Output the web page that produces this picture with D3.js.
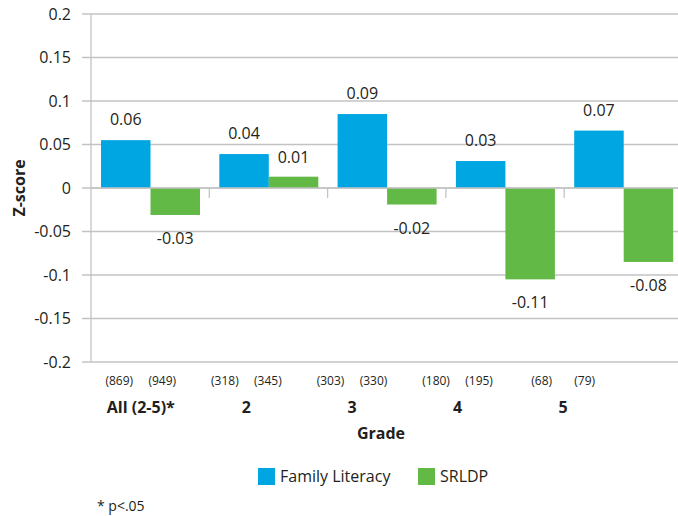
<!DOCTYPE html>
<html><head><meta charset="utf-8">
<script src="https://cdn.jsdelivr.net/npm/d3@7"></script>
<style>body{margin:0;background:#fff;overflow:hidden}svg{display:block}text{font-family:"Open Sans",sans-serif;fill:#231f20}</style>
</head><body>
<svg id="c" width="678" height="516"></svg>
<script>
const categories = ["All (2-5)*", "2", "3", "4", "5"];
const familyLiteracy = [0.055, 0.039, 0.085, 0.031, 0.066];
const srldp = [-0.031, 0.013, -0.019, -0.105, -0.085];
const flLabels = ["0.06", "0.04", "0.09", "0.03", "0.07"];
const srLabels = ["-0.03", "0.01", "-0.02", "-0.11", "-0.08"];
const flN = ["(869)", "(318)", "(303)", "(180)", "(68)"];
const srN = ["(949)", "(345)", "(330)", "(195)", "(79)"];
const yTicks = [0.2, 0.15, 0.1, 0.05, 0, -0.05, -0.1, -0.15, -0.2];
const seriesNames = ["Family Literacy", "SRLDP"];
const colors = ["#00a6e1", "#62b946"];

const svg = d3.select("#c");
const L = 91, R = 682.5, T = 14, B = 362;
const y = d3.scaleLinear().domain([-0.2, 0.2]).range([B, T]);
const x = d3.scaleBand().domain(categories).range([L, R]).paddingInner(0).paddingOuter(0);
const bw = 49.5;
const off = 10;
const lx = d3.scaleBand().domain(categories).range([88, 616]);

// gridlines
svg.append("g").selectAll("line").data(yTicks).join("line")
  .attr("x1", L - 9).attr("x2", R).attr("y1", d => y(d)).attr("y2", d => y(d))
  .attr("stroke", "#c3c3c3").attr("stroke-width", 1.3);
svg.append("line").attr("x1", L).attr("x2", L).attr("y1", T).attr("y2", B)
  .attr("stroke", "#c3c3c3").attr("stroke-width", 1.3);
svg.append("g").selectAll("text").data(yTicks).join("text")
  .attr("x", L - 20).attr("y", d => y(d)).attr("dy", "0.35em")
  .attr("text-anchor", "end").attr("font-size", 16)
  .text(d => d === 0 ? "0" : String(d));

// bars
const g = svg.append("g");
g.selectAll("rect.fl").data(categories).join("rect").attr("class", "fl")
  .attr("x", d => x(d) + off).attr("width", bw)
  .attr("y", (d, i) => y(Math.max(0, familyLiteracy[i])))
  .attr("height", (d, i) => Math.abs(y(familyLiteracy[i]) - y(0)))
  .attr("fill", colors[0]);
g.selectAll("rect.sr").data(categories).join("rect").attr("class", "sr")
  .attr("x", d => x(d) + off + bw).attr("width", bw)
  .attr("y", (d, i) => y(Math.max(0, srldp[i])))
  .attr("height", (d, i) => Math.abs(y(srldp[i]) - y(0)))
  .attr("fill", colors[1]);

// zero line + category ticks
svg.append("line").attr("x1", L).attr("x2", R).attr("y1", y(0)).attr("y2", y(0))
  .attr("stroke", "#c3c3c3").attr("stroke-width", 1.3);
svg.append("g").selectAll("line").data(categories.slice(1)).join("line")
  .attr("x1", d => x(d)).attr("x2", d => x(d)).attr("y1", y(0)).attr("y2", y(0) + 10)
  .attr("stroke", "#c3c3c3").attr("stroke-width", 1.3);

// data labels
svg.append("g").selectAll("text").data(categories).join("text")
  .attr("x", d => x(d) + off + bw / 2)
  .attr("y", (d, i) => y(familyLiteracy[i]) - 15)
  .attr("text-anchor", "middle").attr("font-size", 16)
  .text((d, i) => flLabels[i]);
svg.append("g").selectAll("text").data(categories).join("text")
  .attr("x", d => x(d) + off + bw * 1.5)
  .attr("y", (d, i) => srldp[i] >= 0 ? y(srldp[i]) - 14 : y(srldp[i]) + 29)
  .attr("text-anchor", "middle").attr("font-size", 16)
  .text((d, i) => srLabels[i]);

// sample sizes
svg.append("g").selectAll("text").data(categories).join("text")
  .attr("x", d => lx(d) + lx.bandwidth() / 2 - 21.5).attr("y", 385)
  .attr("text-anchor", "middle").attr("font-size", 12).text((d, i) => flN[i]);
svg.append("g").selectAll("text").data(categories).join("text")
  .attr("x", d => lx(d) + lx.bandwidth() / 2 + 21.5).attr("y", 385)
  .attr("text-anchor", "middle").attr("font-size", 12).text((d, i) => srN[i]);
svg.append("g").selectAll("text").data(categories).join("text")
  .attr("x", d => lx(d) + lx.bandwidth() / 2).attr("y", 413)
  .attr("text-anchor", "middle").attr("font-size", 16).attr("font-weight", "bold").text(d => d);
svg.append("text").attr("x", 381).attr("y", 439).attr("text-anchor", "middle")
  .attr("font-size", 16).attr("font-weight", "bold").text("Grade");
svg.append("text").attr("transform", `translate(25,${y(0)}) rotate(-90)`)
  .attr("text-anchor", "middle").attr("font-size", 16).attr("font-weight", "bold").text("Z-score");

// legend
const leg = svg.append("g");
const legX = [258, 418];
seriesNames.forEach((s, i) => {
  leg.append("rect").attr("x", legX[i]).attr("y", 468).attr("width", 17).attr("height", 17).attr("fill", colors[i]);
  leg.append("text").attr("x", legX[i] + 22).attr("y", 482).attr("font-size", 16).text(s);
});
svg.append("text").attr("x", 97).attr("y", 511).attr("font-size", 14).text("* p<.05");
</script>
</body></html>
